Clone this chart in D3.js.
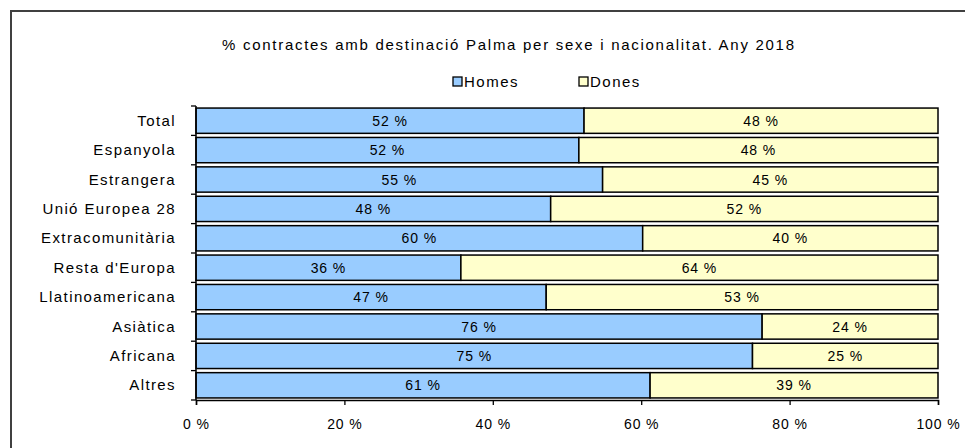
<!DOCTYPE html>
<html>
<head>
<meta charset="utf-8">
<script src="https://cdn.jsdelivr.net/npm/d3@7"></script>
<style>
  html, body { margin: 0; padding: 0; background: #fff; }
  svg { display: block; }
  text { font-family: "Liberation Sans", Arial, sans-serif; fill: #000; }
</style>
</head>
<body>
<div id="chart"></div>
<script>
const title = "%  contractes amb destinació  Palma per sexe i nacionalitat. Any 2018";
const categories = ["Total", "Espanyola", "Estrangera", "Unió Europea  28", "Extracomunitària",
  "Resta d'Europa", "Llatinoamericana", "Asiàtica", "Africana", "Altres"];
const seriesNames = ["Homes", "Dones"];
const homes = [52.3, 51.6, 54.8, 47.8, 60.2, 35.7, 47.2, 76.3, 75.0, 61.2];
const dones = [47.7, 48.4, 45.2, 52.2, 39.8, 64.3, 52.8, 23.7, 25.0, 38.8];
const xTicks = [0, 20, 40, 60, 80, 100];
const colors = ["#99ccff", "#ffffcc"];

const W = 965, H = 448;
const svg = d3.select("#chart").append("svg").attr("width", W).attr("height", H);

// outer frame
svg.append("rect").attr("x", 11).attr("y", 11).attr("width", W + 10).attr("height", H + 10)
  .attr("fill", "#fff").attr("stroke", "#404040").attr("stroke-width", 2);

const margin = { left: 196, right: 27, top: 106, bottom: 48 };
const x = d3.scaleLinear().domain([0, 100]).range([margin.left, W - margin.right]);
const y = d3.scaleBand().domain(categories).range([margin.top, H - margin.bottom])
  .paddingInner(0.14).paddingOuter(0.07);

// title
svg.append("text").attr("x", 508).attr("y", 50).attr("text-anchor", "middle")
  .style("font-size", "15px").attr("textLength", 572).attr("lengthAdjust", "spacing")
  .text(title);

// legend
const legendX = [453, 579];
seriesNames.forEach((s, i) => {
  const g = svg.append("g").attr("transform", `translate(${legendX[i]},82)`);
  g.append("rect").attr("x", 0).attr("y", -5).attr("width", 9).attr("height", 9)
    .attr("fill", colors[i]).attr("stroke", "#000").attr("stroke-width", 1.3);
  g.append("text").attr("x", 11).attr("y", 5).style("font-size", "15px")
    .style("letter-spacing", "1.5px").text(s);
});

// stacked data
const rows = categories.map((c, i) => ({ cat: c, Homes: homes[i], Dones: dones[i] }));
const stack = d3.stack().keys(seriesNames)(rows);

const layers = svg.append("g").selectAll("g").data(stack).join("g")
  .attr("fill", (d, i) => colors[i]);
layers.selectAll("rect").data(d => d).join("rect")
  .attr("x", d => x(d[0]))
  .attr("y", d => y(d.data.cat))
  .attr("width", d => x(d[1]) - x(d[0]))
  .attr("height", y.bandwidth())
  .attr("stroke", "#000").attr("stroke-width", 1.5);

// value labels
layers.selectAll("text").data(d => d).join("text")
  .attr("x", d => (x(d[0]) + x(d[1])) / 2)
  .attr("y", d => y(d.data.cat) + y.bandwidth() / 2 + 5)
  .attr("text-anchor", "middle")
  .style("font-size", "14px").style("letter-spacing", "0.9px")
  .attr("fill", "#000")
  .text(d => Math.round(d[1] - d[0]) + " %");

// x axis
const xAxis = d3.axisBottom(x).tickValues(xTicks).tickFormat(d => d + " %").tickSize(5).tickPadding(14);
const gx = svg.append("g").attr("transform", `translate(0,${H - margin.bottom})`).call(xAxis);
gx.select(".domain").attr("stroke", "#000").attr("stroke-width", 1.5);
gx.selectAll(".tick line").attr("stroke", "#000").attr("stroke-width", 1.3);
gx.selectAll(".tick text").style("font-size", "14px").style("letter-spacing", "0.9px")
  .style("font-family", "'Liberation Sans', Arial, sans-serif").attr("fill", "#000");

// y axis (ticks at band boundaries)
const gy = svg.append("g").attr("transform", `translate(${margin.left},0)`);
gy.append("line").attr("x1", 0).attr("x2", 0).attr("y1", margin.top).attr("y2", H - margin.bottom)
  .attr("stroke", "#000").attr("stroke-width", 1.5);
const boundaries = d3.range(categories.length + 1).map(i => margin.top + i * (H - margin.bottom - margin.top) / categories.length);
gy.selectAll("line.tk").data(boundaries).join("line").attr("class", "tk")
  .attr("x1", -5).attr("x2", 0).attr("y1", d => d).attr("y2", d => d)
  .attr("stroke", "#000").attr("stroke-width", 1.3);
gy.selectAll("text").data(categories).join("text")
  .attr("x", -20).attr("y", d => y(d) + y.bandwidth() / 2 + 5)
  .attr("text-anchor", "end").style("font-size", "15px").style("letter-spacing", "1.4px")
  .text(d => d);
</script>
</body>
</html>
